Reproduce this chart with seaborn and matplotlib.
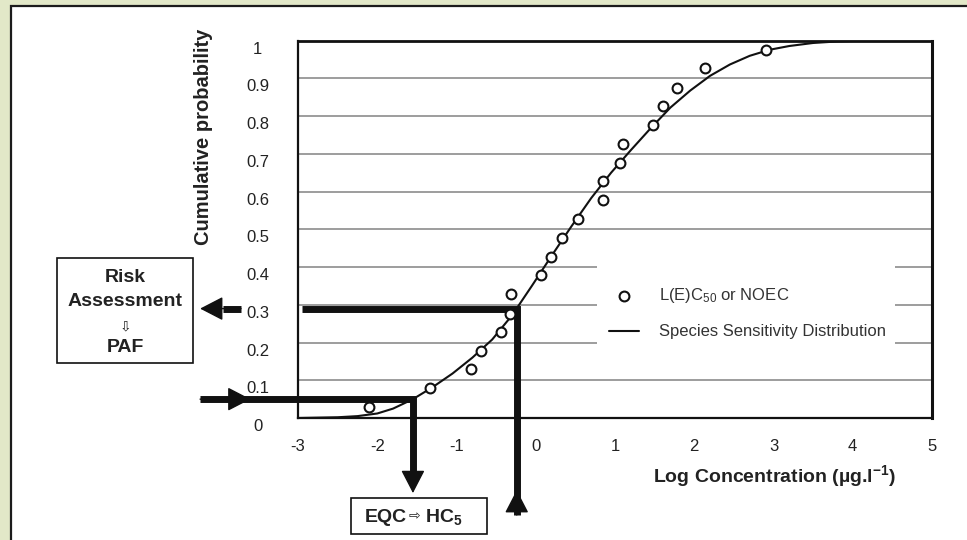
# Species Sensitivity Distribution (SSD) chart
import numpy as np
import matplotlib
matplotlib.use("Agg")
import matplotlib.pyplot as plt
import seaborn as sns
from matplotlib.patches import Rectangle
from matplotlib.transforms import ScaledTranslation

# --- data ---
# toxicity points: log concentration vs plotting position
tox_x = [-2.11, -1.34, -0.82, -0.695, -0.442, -0.325, -0.316, 0.066, 0.192, 0.327,
         0.537, 0.845, 0.845, 1.06, 1.10, 1.48, 1.61, 1.78, 2.14, 2.90]
tox_p = [0.030, 0.080, 0.129, 0.178, 0.229, 0.277, 0.328, 0.379, 0.428, 0.476,
         0.527, 0.577, 0.627, 0.677, 0.726, 0.777, 0.827, 0.875, 0.927, 0.975]

# fitted SSD curve
ssd_x = [-3.0, -2.75, -2.5, -2.25, -2.0, -1.8, -1.55, -1.3, -1.05, -0.8, -0.55, -0.3,
         -0.05, 0.2, 0.45, 0.7, 0.95, 1.2, 1.45, 1.7, 1.95, 2.2, 2.45, 2.7, 2.95,
         3.2, 3.5, 3.8, 4.1, 5.0]
ssd_p = [0.000, 0.001, 0.002, 0.005, 0.012, 0.025, 0.050, 0.082, 0.118, 0.160, 0.208, 0.272,
         0.350, 0.430, 0.508, 0.583, 0.650, 0.710, 0.768, 0.823, 0.868, 0.907, 0.937, 0.960, 0.976,
         0.986, 0.994, 0.998, 1.000, 1.000]

# reading of the curve: HC5 and PAF at a measured concentration
hc5_x, hc5_p = -1.55, 0.05
paf_x, paf_p = -0.24, 0.29

x_ticks = [-3, -2, -1, 0, 1, 2, 3, 4, 5]
x_labels = ["-3", "-2", "-1", "0", "1", "2", "3", "4", "5"]
y_ticks = [0, 0.1, 0.2, 0.3, 0.4, 0.5, 0.6, 0.7, 0.8, 0.9, 1]
y_labels = ["0", "0.1", "0.2", "0.3", "0.4", "0.5", "0.6", "0.7", "0.8", "0.9", "1"]

# --- style ---
sns.set_style("white")
plt.rcParams["font.family"] = ["Liberation Sans", "DejaVu Sans"]
plt.rcParams["mathtext.default"] = "regular"

fig = plt.figure(figsize=(9.67, 5.40), dpi=100, facecolor="#e2e8c8")
# white panel with dark border (left and top edges visible)
fig.patches.append(Rectangle((11 / 967, -0.1), 1.2, 1.1 - 6 / 540, transform=fig.transFigure,
                             fc="white", ec="#1b1b1b", lw=1.6, zorder=-5))

ax = fig.add_axes([0.3082, 0.2259, 0.6556, 0.6987])
ax.set_facecolor("white")
ax.set_axisbelow(True)

# curve and points
sns.lineplot(x=ssd_x, y=ssd_p, ax=ax, color="#111111", lw=1.5, sort=True,
             estimator=None, zorder=3, label="Species Sensitivity Distribution")
curve = ax.lines[-1]
sns.scatterplot(x=tox_x, y=tox_p, ax=ax, s=50, marker="o", facecolor="white",
                edgecolor="#111111", linewidth=1.5, zorder=4, label="L(E)C$_{50}$ or NOEC")
pts = ax.collections[-1]

# thick reading lines
lw_thick = 5
ax.plot([-2.95, paf_x, paf_x], [paf_p, paf_p, -0.257], color="#111111", lw=lw_thick,
        solid_joinstyle="miter", solid_capstyle="butt", clip_on=False, zorder=2.5)
ax.plot([-4.236, hc5_x, hc5_x], [hc5_p, hc5_p, -0.15], color="#111111", lw=lw_thick,
        solid_joinstyle="miter", solid_capstyle="butt", clip_on=False, zorder=2.5)
ax.plot([-3.72, -3.95], [paf_p, paf_p], color="#111111", lw=lw_thick,
        solid_capstyle="butt", clip_on=False, zorder=2.5)

head = dict(arrowstyle="-|>,head_length=1.45,head_width=0.75", color="#111111", lw=1,
            shrinkA=0, shrinkB=0, mutation_scale=10)
for tip, tail in [((paf_x, -0.191), (paf_x, -0.257)),
                  ((hc5_x, -0.199), (hc5_x, hc5_p)),
                  ((-3.60, hc5_p), (-4.236, hc5_p)),
                  ((-4.236, paf_p), (-3.72, paf_p))]:
    ax.annotate("", xy=tip, xytext=tail, arrowprops=head, annotation_clip=False, zorder=2.6)

# axes look
ax.set_xlim(-3, 5)
ax.set_ylim(0, 1)
ax.set_xticks(x_ticks)
ax.set_xticklabels(x_labels)
ax.set_yticks(y_ticks)
ax.set_yticklabels(y_labels)
ax.yaxis.grid(True, color="#8c8c8c", lw=1.2)
ax.xaxis.grid(False)
for side in ["left", "right", "top", "bottom"]:
    ax.spines[side].set_color("#111111")
    ax.spines[side].set_linewidth(1.6)
ax.spines["right"].set_linewidth(2.2)
ax.spines["top"].set_linewidth(2.0)
ax.tick_params(axis="both", direction="out", length=3, width=1, color="#8c8c8c",
               labelsize=12, labelcolor="#222222")
ax.tick_params(axis="x", pad=12)
ax.tick_params(axis="y", pad=26)
for lbl in ax.get_yticklabels():
    lbl.set_horizontalalignment("center")
    lbl.set_transform(lbl.get_transform() + ScaledTranslation(0, -0.07, fig.dpi_scale_trans))

ax.set_ylabel("Cumulative probability", fontsize=14.5, fontweight="bold", color="#222222")
ax.yaxis.set_label_coords(-0.134, 0.745)
ax.set_xlabel("Log Concentration (µg.l$^{-1}$)", fontsize=14, fontweight="bold", color="#222222")
ax.xaxis.set_label_coords(0.752, -0.12)

# legend on a white patch that hides the gridlines
ax.add_patch(Rectangle((0.4716, 0.122), 0.47, 0.323, transform=ax.transAxes,
                       fc="white", ec="none", zorder=1))
ax.legend([pts, curve], ["L(E)C$_{50}$ or NOEC", "Species Sensitivity Distribution"],
          loc="upper left", bbox_to_anchor=(0.461, 0.398), frameon=False, fontsize=12,
          handlelength=1.8, handletextpad=1.2, labelspacing=1.15, borderpad=0.6,
          scatterpoints=1, labelcolor="#333333")

# boxes
fig.patches.append(Rectangle((57 / 967, 1 - 363 / 540), 136 / 967, 105 / 540,
                             transform=fig.transFigure, fc="white", ec="#111111", lw=1.2))
fig.text(125 / 967, 1 - 278 / 540, "Risk", ha="center", va="center", fontsize=14,
         fontweight="bold", color="#222222")
fig.text(125 / 967, 1 - 302 / 540, "Assessment", ha="center", va="center", fontsize=14,
         fontweight="bold", color="#222222")
fig.text(125 / 967, 1 - 326 / 540, "⇩", ha="center", va="center", fontsize=10,
         family=["DejaVu Sans"], color="#222222")
fig.text(125 / 967, 1 - 348 / 540, "PAF", ha="center", va="center", fontsize=14,
         fontweight="bold", color="#222222")

fig.patches.append(Rectangle((351 / 967, 1 - 534 / 540), 136 / 967, 36 / 540,
                             transform=fig.transFigure, fc="white", ec="#111111", lw=1.2))
fig.text(407 / 967, 1 - 522 / 540, "EQC", ha="right", va="baseline", fontsize=14,
         fontweight="bold", color="#222222")
fig.text(414 / 967, 1 - 516 / 540, "⇨", ha="center", va="center", fontsize=10,
         family=["DejaVu Sans"], color="#222222")
fig.text(425 / 967, 1 - 522 / 540, "HC$_5$", ha="left", va="baseline", fontsize=14,
         fontweight="bold", color="#222222")

fig.savefig("out.png", dpi=100)
